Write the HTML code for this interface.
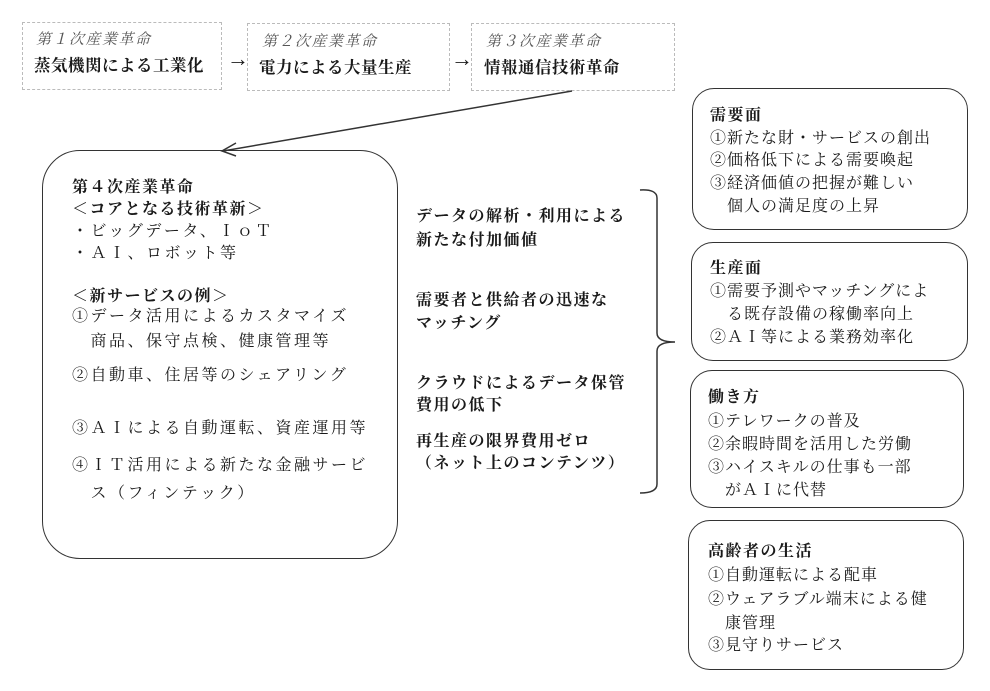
<!DOCTYPE html>
<html><head><meta charset="utf-8"><style>
body{margin:0;width:990px;height:691px;background:#fff;position:relative;overflow:hidden;font-family:"Liberation Serif","Noto Serif CJK SC",serif;color:#1a1a1a}
.t{position:absolute;white-space:nowrap;font-size:16px;letter-spacing:1.5px}
.b{font-weight:bold;font-family:"Liberation Serif","Noto Serif CJK SC",serif}
.box{position:absolute;border:1.5px solid #333;border-radius:22px;box-sizing:border-box}
.dash{position:absolute;border:1.5px dashed #bbb;box-sizing:border-box}
.i{font-style:italic;color:#555;font-size:15px}
</style></head><body>
<div class="dash" style="left:22px;top:22px;width:200px;height:68px"></div>
<div class="dash" style="left:247px;top:23px;width:203px;height:68px"></div>
<div class="dash" style="left:471px;top:23px;width:204px;height:68px"></div>
<div class="t i" style="left:36px;top:28px">第１次産業革命</div>
<div class="t b" style="left:34px;top:52px;letter-spacing:0.5px;font-size:16.5px">蒸気機関による工業化</div>
<div class="t" style="left:227px;top:46px;font-size:22px">→</div>
<div class="t i" style="left:262px;top:30px">第２次産業革命</div>
<div class="t b" style="left:259px;top:54px;letter-spacing:0.5px;font-size:16.5px">電力による大量生産</div>
<div class="t" style="left:451px;top:46px;font-size:22px">→</div>
<div class="t i" style="left:486px;top:30px">第３次産業革命</div>
<div class="t b" style="left:484px;top:54px;letter-spacing:0.5px;font-size:16.5px">情報通信技術革命</div>

<svg style="position:absolute;left:0;top:0" width="990" height="691">
<line x1="572" y1="91" x2="223" y2="151" stroke="#333" stroke-width="1.5"/>
<polyline points="236,143 222,151 236,156" fill="none" stroke="#333" stroke-width="1.5"/>
<path d="M640 190 Q657 189 657 198 L657 333 Q657 342 675 342 Q657 342 657 351 L657 484 Q657 493 640 493" fill="none" stroke="#333" stroke-width="1.5"/>
</svg>

<div class="box" style="left:42px;top:150px;width:356px;height:409px;border-radius:38px"></div>
<div class="t b" style="left:72px;top:174px">第４次産業革命</div>
<div class="t b" style="left:72px;top:196px">＜コアとなる技術革新＞</div>
<div class="t" style="left:72px;top:218px;letter-spacing:2.5px">・ビッグデータ、ＩｏＴ</div>
<div class="t" style="left:72px;top:240px;letter-spacing:2.5px">・ＡＩ、ロボット等</div>
<div class="t b" style="left:72px;top:283px">＜新サービスの例＞</div>
<div class="t" style="left:72px;top:303px;letter-spacing:2.5px">①データ活用によるカスタマイズ</div>
<div class="t" style="left:72px;top:328px;letter-spacing:2.5px">　商品、保守点検、健康管理等</div>
<div class="t" style="left:72px;top:362px;letter-spacing:2.5px">②自動車、住居等のシェアリング</div>
<div class="t" style="left:72px;top:415px;letter-spacing:2.5px">③ＡＩによる自動運転、資産運用等</div>
<div class="t" style="left:72px;top:452px;letter-spacing:2.5px">④ＩＴ活用による新たな金融サービ</div>
<div class="t" style="left:72px;top:480px;letter-spacing:2.5px">　ス（フィンテック）</div>

<div class="t b" style="left:416px;top:203px">データの解析・利用による</div>
<div class="t b" style="left:416px;top:227px">新たな付加価値</div>
<div class="t b" style="left:416px;top:287px">需要者と供給者の迅速な</div>
<div class="t b" style="left:416px;top:310px">マッチング</div>
<div class="t b" style="left:416px;top:370px">クラウドによるデータ保管</div>
<div class="t b" style="left:416px;top:392px">費用の低下</div>
<div class="t b" style="left:416px;top:428px">再生産の限界費用ゼロ</div>
<div class="t b" style="left:416px;top:450px">（ネット上のコンテンツ）</div>

<div class="box" style="left:692px;top:88px;width:276px;height:142px"></div>
<div class="t b" style="left:710px;top:102px">需要面</div>
<div class="t" style="left:710px;top:125px;letter-spacing:1px">①新たな財・サービスの創出</div>
<div class="t" style="left:710px;top:147px;letter-spacing:1px">②価格低下による需要喚起</div>
<div class="t" style="left:710px;top:170px;letter-spacing:1px">③経済価値の把握が難しい</div>
<div class="t" style="left:710px;top:193px;letter-spacing:1px">　個人の満足度の上昇</div>

<div class="box" style="left:691px;top:242px;width:277px;height:119px"></div>
<div class="t b" style="left:710px;top:255px">生産面</div>
<div class="t" style="left:710px;top:278px;letter-spacing:1px">①需要予測やマッチングによ</div>
<div class="t" style="left:710px;top:301px;letter-spacing:1px">　る既存設備の稼働率向上</div>
<div class="t" style="left:710px;top:324px;letter-spacing:1px">②ＡＩ等による業務効率化</div>

<div class="box" style="left:690px;top:370px;width:274px;height:138px"></div>
<div class="t b" style="left:708px;top:384px">働き方</div>
<div class="t" style="left:708px;top:408px;letter-spacing:1px">①テレワークの普及</div>
<div class="t" style="left:708px;top:431px;letter-spacing:1px">②余暇時間を活用した労働</div>
<div class="t" style="left:708px;top:454px;letter-spacing:1px">③ハイスキルの仕事も一部</div>
<div class="t" style="left:708px;top:477px;letter-spacing:1px">　がＡＩに代替</div>

<div class="box" style="left:688px;top:520px;width:276px;height:150px"></div>
<div class="t b" style="left:708px;top:538px">高齢者の生活</div>
<div class="t" style="left:708px;top:562px;letter-spacing:1px">①自動運転による配車</div>
<div class="t" style="left:708px;top:586px;letter-spacing:1px">②ウェアラブル端末による健</div>
<div class="t" style="left:708px;top:610px;letter-spacing:1px">　康管理</div>
<div class="t" style="left:708px;top:632px;letter-spacing:1px">③見守りサービス</div>
</body></html>
